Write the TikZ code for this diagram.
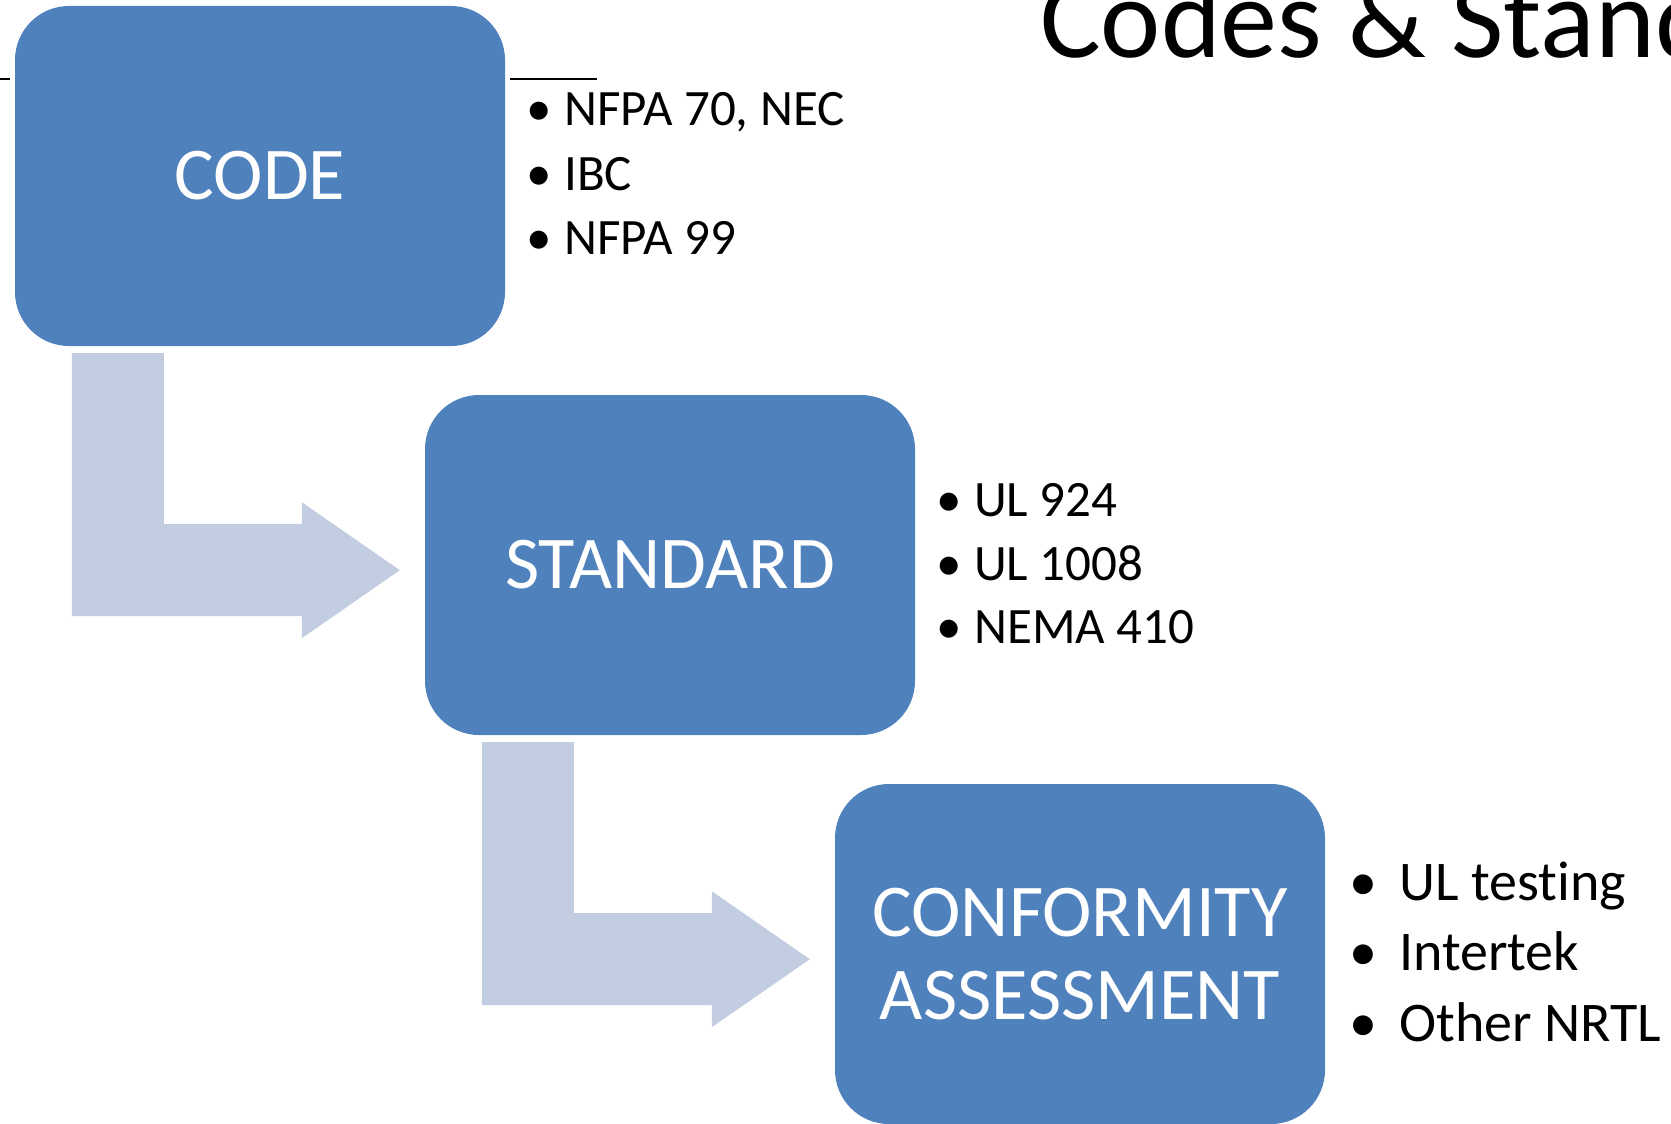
\documentclass[tikz,border=0pt]{standalone}
\usepackage{fontspec}
\setmainfont{Carlito}[Ligatures=NoCommon]
\usetikzlibrary{calc}
\definecolor{boxblue}{HTML}{4F81BD}
\definecolor{arrowblue}{HTML}{C3CDE1}
\begin{document}
\begin{tikzpicture}[x=1pt,y=-1pt,
  box/.style={rectangle, rounded corners=54pt, fill=boxblue, minimum width=490pt,
    minimum height=340pt, inner sep=0pt, text=white, align=center,
    font=\fontsize{74.5}{83}\selectfont},
  bul/.style={anchor=base, inner sep=0pt},
  itm/.style={anchor=base west, inner sep=0pt},
  small/.style={font=\fontsize{51}{59}\selectfont},
  large/.style={font=\fontsize{56}{66}\selectfont},
  rule/.style={line width=2pt, black},
  bentarrow/.pic={
    \fill[arrowblue] (0,0) -- (92,0) -- (92,171) -- (230,171) -- (230,149)
      -- (328,217) -- (230,285) -- (230,263) -- (0,263) -- cycle;
  }
]
\useasboundingbox (0,0) rectangle (1671,1124);
\clip (0,0) rectangle (1671,1124);

% title (cut off at the right edge)
\node[anchor=base west, inner sep=0pt, font=\fontsize{114}{120}\selectfont] (title) at (1040,58) {Codes \& Standards};

% boxes
\node[box] (code) at (260,176) {CODE};
\node[box] (std) at (670,565) {STANDARD};
\node[box] (conf) at (1080,954) {CONFORMITY\\ASSESSMENT};

% bent arrows
\pic at ($(code.south west)+(57,7)$) {bentarrow};
\pic at ($(std.south west)+(57,7)$) {bentarrow};

% short rules
\coordinate (la) at (0,79);
\coordinate (lb) at (510,79);
\draw[rule] (la) -- ($(code.west |- la)+(-5,0)$);
\draw[rule] (lb) -- ++(87,0);

% lists
\foreach \yy/\tt [count=\i] in {125/{NFPA 70, NEC},190/{IBC},254/{NFPA 99}} {
  \node[bul,small] (a\i b) at (539,\yy) {\textbullet};
  \node[itm,small] (a\i) at (564,\yy) {\tt};
}
\foreach \yy/\tt [count=\i] in {516/{UL 924},580/{UL 1008},643/{NEMA 410}} {
  \node[bul,small] (b\i b) at (949,\yy) {\textbullet};
  \node[itm,small] (b\i) at (974,\yy) {\tt};
}
\foreach \yy/\tt [count=\i] in {900/{UL testing},970/{Intertek},1041/{Other NRTL}} {
  \node[bul,large] (c\i b) at (1363,\yy) {\textbullet};
  \node[itm,large] (c\i) at (1399,\yy) {\tt};
}
\end{tikzpicture}
\end{document}
